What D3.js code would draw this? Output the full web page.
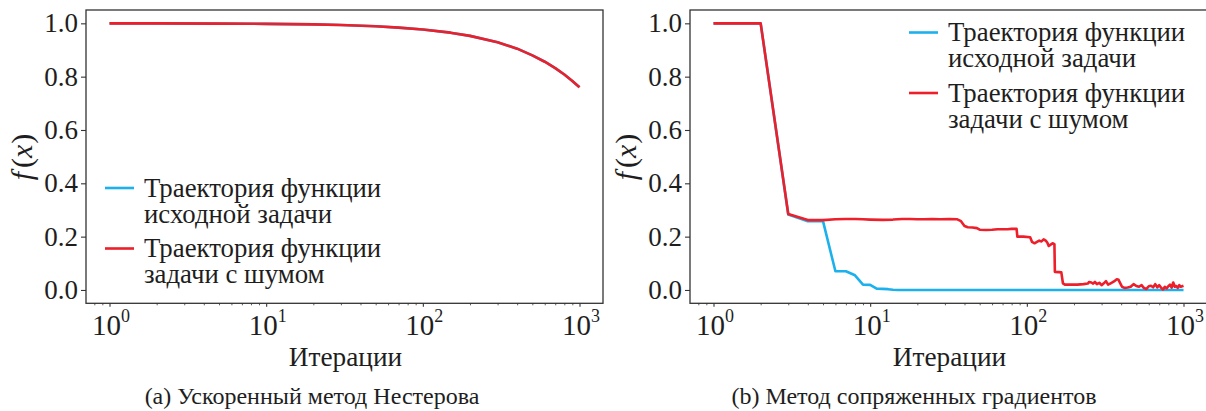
<!DOCTYPE html>
<html><head><meta charset="utf-8">
<script src="https://cdn.jsdelivr.net/npm/d3@7"></script>
<style>body{margin:0;background:#fff}</style>
</head><body>
<svg id="c" width="1206" height="411"></svg>
<script>
// ---- data ----
const yTicks = [0.0, 0.2, 0.4, 0.6, 0.8, 1.0];
const xTickExp = [0, 1, 2, 3];
const seriesNames = ["Траектория функции\nисходной задачи", "Траектория функции\nзадачи с шумом"];
const captions = ["(a) Ускоренный метод Нестерова", "(b) Метод сопряженных градиентов"];
const xLabel = "Итерации";

// Panel (a): Nesterov – both trajectories coincide
const nesIter = [1, 2, 5, 10, 20, 30, 50, 70, 100, 150, 200, 300, 400, 500, 600, 700, 800, 900, 1000];
const nesClean = [1.000, 1.000, 0.999, 0.998, 0.996, 0.994, 0.989, 0.984, 0.977, 0.965, 0.953, 0.929, 0.905, 0.880, 0.856, 0.832, 0.808, 0.784, 0.760];
const nesNoisy = [1.000, 1.000, 0.999, 0.998, 0.996, 0.994, 0.989, 0.984, 0.977, 0.965, 0.953, 0.929, 0.905, 0.880, 0.856, 0.832, 0.808, 0.784, 0.760];

// Panel (b): conjugate gradients
const cgCleanIter = [1, 2, 3, 4, 5, 6, 7, 8, 9, 10, 11, 12, 13, 14, 15, 20, 50, 100, 300, 1000];
const cgClean = [1.0, 1.0, 0.283, 0.258, 0.258, 0.070, 0.070, 0.055, 0.020, 0.019, 0.005, 0.004, 0.003, 0.001, 0.0, 0.0, 0.0, 0.0, 0.0, 0.0];
const cgNoisyIter = [1, 2, 3, 4, 5, 6, 7, 8, 9, 10, 12, 14, 16, 18, 20, 22, 25, 28, 32, 36, 38, 40, 42, 45, 48, 50, 55, 60, 65, 70, 75, 80, 86, 87, 95, 105, 108, 112, 116, 120, 124, 128, 132, 135, 138, 142, 146, 150, 151, 160, 166, 170, 175, 190, 210, 230, 245, 250, 258, 265, 272, 280, 290, 300, 310, 320, 330, 345, 360, 375, 385, 395, 405, 420, 440, 460, 480, 500, 520, 540, 560, 580, 600, 620, 640, 660, 680, 700, 720, 740, 760, 780, 800, 820, 840, 860, 880, 900, 920, 940, 960, 980, 1000];
const cgNoisy = [1.0, 1.0, 0.285, 0.262, 0.262, 0.265, 0.266, 0.266, 0.265, 0.264, 0.263, 0.264, 0.266, 0.266, 0.265, 0.265, 0.266, 0.265, 0.266, 0.265, 0.258, 0.240, 0.235, 0.234, 0.232, 0.226, 0.225, 0.226, 0.228, 0.228, 0.228, 0.229, 0.229, 0.200, 0.200, 0.198, 0.180, 0.175, 0.180, 0.185, 0.182, 0.190, 0.185, 0.178, 0.165, 0.170, 0.175, 0.172, 0.068, 0.067, 0.066, 0.025, 0.020, 0.020, 0.020, 0.022, 0.024, 0.030, 0.028, 0.024, 0.030, 0.022, 0.027, 0.018, 0.025, 0.033, 0.020, 0.026, 0.032, 0.040, 0.038, 0.025, 0.012, 0.008, 0.009, 0.012, 0.022, 0.015, 0.012, 0.018, 0.007, 0.004, 0.014, 0.016, 0.010, 0.022, 0.010, 0.018, 0.008, 0.002, 0.012, 0.006, 0.014, 0.020, 0.009, 0.028, 0.012, 0.015, 0.008, 0.018, 0.012, 0.014, 0.016];

const colors = ["#1cb0ec", "#ec1f2b"];

// ---- drawing ----
const svg = d3.select("#c");
const FAM = '"Liberation Serif"';
const INK = "#1e1e1e";

// texts are appended directly to the svg root
function txt(size) {
  return svg.append("text").style("font-family", FAM).style("font-size", size + "px").attr("fill", INK);
}

function panel(opts) {
  const x = d3.scaleLog().domain([Math.pow(10, -0.15), Math.pow(10, 3.15)]).range([opts.left, opts.left + 517]);
  const y = d3.scaleLinear().domain([-0.05, 1.05]).range([303.3, 10]);
  const g = svg.append("g");

  const line = d3.line().x(d => x(d[0])).y(d => y(d[1]));
  opts.series.forEach((s, i) => {
    const pts = s.iter.map((k, j) => [k, s.vals[j]]);
    g.append("path").attr("d", line(pts)).attr("fill", "none")
      .attr("stroke", colors[i]).attr("stroke-width", 2.6).attr("stroke-linejoin", "round");
  });

  g.append("rect").attr("x", x.range()[0]).attr("y", 10)
    .attr("width", x.range()[1] - x.range()[0]).attr("height", 293.3)
    .attr("fill", "none").attr("stroke", "#333").attr("stroke-width", 1.3);

  // y axis ticks (labels drawn as root texts from the same scale)
  const ya = g.append("g").attr("transform", `translate(${x.range()[0]},0)`)
    .call(d3.axisLeft(y).tickValues(yTicks).tickSize(5).tickFormat(""));
  ya.select(".domain").remove();
  ya.selectAll("line").attr("stroke", "#333").attr("stroke-width", 1.1);
  const fmt = d3.format(".1f");
  yTicks.forEach(v => {
    txt(27).attr("x", x.range()[0] - 8).attr("y", y(v)).attr("dy", "0.33em")
      .attr("text-anchor", "end").text(fmt(v));
  });

  const majors = xTickExp.map(e => Math.pow(10, e));
  const xa = g.append("g").attr("transform", "translate(0,303.3)")
    .call(d3.axisBottom(x).tickValues(majors).tickSize(3.5).tickFormat(""));
  xa.select(".domain").remove();
  xa.selectAll("line").attr("stroke", "#333").attr("stroke-width", 1.1);
  const minors = [];
  [-1, 0, 1, 2, 3].forEach(e => { for (let m = 2; m <= 9; m++) { const v = m * Math.pow(10, e); if (v > x.domain()[0] && v < x.domain()[1]) minors.push(v); } });
  const xm = g.append("g").attr("transform", "translate(0,303.3)")
    .call(d3.axisBottom(x).tickValues(minors).tickSize(2).tickFormat(""));
  xm.select(".domain").remove();
  xm.selectAll("line").attr("stroke", "#333").attr("stroke-width", 0.8);

  xTickExp.forEach(e => {
    const t = txt(29).attr("x", x(Math.pow(10, e)) + 1.5).attr("y", 335).attr("text-anchor", "middle");
    t.append("tspan").text("10");
    t.append("tspan").attr("dy", -13).style("font-size", "18px").text(String(e));
  });

  const cx = (x.range()[0] + x.range()[1]) / 2;
  txt(27.3).attr("x", cx + 1).attr("y", 366).attr("text-anchor", "middle").text(xLabel);

  const yl = txt(30).attr("transform", `translate(${opts.left - 54},157) rotate(-90)`).attr("text-anchor", "middle");
  yl.append("tspan").style("font-style", "italic").text("f");
  yl.append("tspan").attr("dx", 4).text("(");
  yl.append("tspan").style("font-style", "italic").text("x");
  yl.append("tspan").attr("dx", 1).text(")");

  txt(opts.capSize).attr("x", opts.capX).attr("y", 404).attr("text-anchor", "middle").text(opts.caption);

  opts.series.forEach((s, i) => {
    const ly = opts.legY + i * 60.5;
    g.append("line").attr("x1", opts.legX).attr("x2", opts.legX + 29).attr("y1", ly).attr("y2", ly)
      .attr("stroke", colors[i]).attr("stroke-width", 2.6);
    const t = txt(26.8).attr("y", ly + 8.7);
    seriesNames[i].split("\n").forEach((ln, j) => {
      t.append("tspan").attr("x", opts.legX + 39).attr("dy", j === 0 ? 0 : 26).text(ln);
    });
  });
}

panel({ left: 86, caption: captions[0], capX: 312, capSize: 24, legX: 105, legY: 188,
  series: [{ iter: nesIter, vals: nesClean }, { iter: nesIter, vals: nesNoisy }] });
panel({ left: 690, caption: captions[1], capX: 914, capSize: 24, legX: 909, legY: 32.5,
  series: [{ iter: cgCleanIter, vals: cgClean }, { iter: cgNoisyIter, vals: cgNoisy }] });
</script>
</body></html>
